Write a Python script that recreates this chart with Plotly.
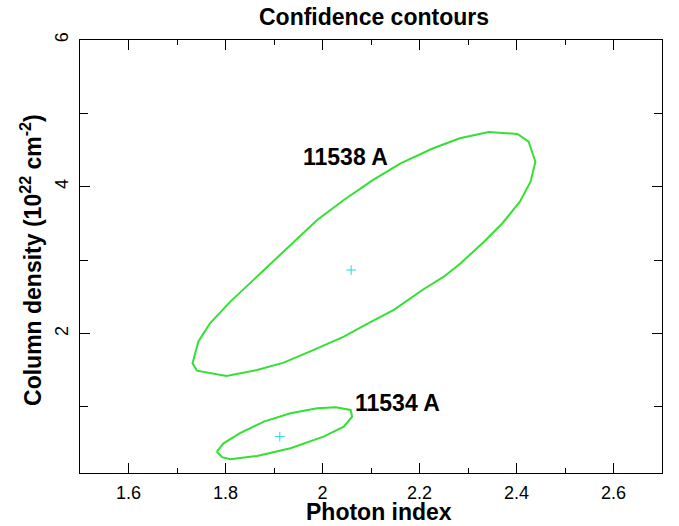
import plotly.graph_objects as go

# Contour 11538 A (photon index, column density)
c1_x = [1.744, 1.732, 1.741, 1.802, 1.865, 1.920, 1.982, 2.044, 2.092, 2.147, 2.206, 2.250,
        2.285, 2.333, 2.371, 2.407, 2.429, 2.439, 2.425, 2.402, 2.343, 2.283, 2.227, 2.161,
        2.102, 2.044, 1.989, 1.927, 1.865, 1.810, 1.768, 1.744]
c1_y = [1.890, 1.595, 1.495, 1.422, 1.504, 1.604, 1.777, 1.958, 2.131, 2.322, 2.594, 2.775,
        2.958, 3.252, 3.503, 3.797, 4.069, 4.342, 4.614, 4.719, 4.747, 4.661, 4.522, 4.320,
        4.083, 3.820, 3.548, 3.162, 2.775, 2.435, 2.140, 1.890]
c1_best = (2.059, 2.866)

# Contour 11534 A
c2_x = [1.782, 1.793, 1.810, 1.865, 1.934, 2.002, 2.044, 2.061, 2.058, 2.027, 1.989, 1.934,
        1.879, 1.830, 1.796, 1.782]
c2_y = [0.391, 0.315, 0.287, 0.332, 0.437, 0.595, 0.732, 0.868, 0.959, 0.996, 0.982, 0.914,
        0.800, 0.642, 0.505, 0.391]
c2_best = (1.912, 0.595)

labels = ["11538 A", "11534 A"]
label_x = [2.047, 2.155]
label_y = [4.406, 1.054]

x_ticks = [1.6, 1.8, 2.0, 2.2, 2.4, 2.6]
x_ticktext = ["1.6", "1.8", "2", "2.2", "2.4", "2.6"]
y_ticks = [2, 4, 6]
y_ticktext = ["2", "4", "6"]

GREEN = "#33e033"
CYAN = "#22d8d8"
FONT = "Liberation Sans, Arial, Helvetica, sans-serif"

fig = go.Figure()
for cx, cy in [(c1_x, c1_y), (c2_x, c2_y)]:
    fig.add_trace(go.Scatter(x=cx, y=cy, mode="lines",
                             line=dict(color=GREEN, width=2), hoverinfo="skip"))
fig.add_trace(go.Scatter(x=[c1_best[0], c2_best[0]], y=[c1_best[1], c2_best[1]],
                         mode="markers",
                         marker=dict(symbol="cross-thin", size=7,
                                     line=dict(color=CYAN, width=1))))

for t, lx, ly in zip(labels, label_x, label_y):
    fig.add_annotation(x=lx, y=ly, text=f"<b>{t}</b>", showarrow=False,
                       font=dict(family=FONT, size=23, color="black"))

# titles
fig.add_annotation(xref="paper", yref="paper", x=0.505, y=1.0, yshift=23,
                   xanchor="center", yanchor="middle",
                   text="<b>Confidence contours</b>", showarrow=False,
                   font=dict(family=FONT, size=23, color="black"))
fig.add_annotation(xref="paper", yref="paper", x=0.513, y=0, yshift=-39,
                   xanchor="center", yanchor="middle",
                   text="<b>Photon index</b>", showarrow=False,
                   font=dict(family=FONT, size=23, color="black"))
fig.add_annotation(xref="paper", yref="paper", x=0, xshift=-49, y=0.492,
                   xanchor="center", yanchor="middle",
                   text="<b>Column density (10<sup>22</sup> cm<sup>-2</sup>)</b>",
                   textangle=-90, showarrow=False,
                   font=dict(family=FONT, size=23, color="black"))

axis_common = dict(showline=True, linecolor="black", linewidth=1, mirror="ticks",
                   ticks="inside", ticklen=10, tickcolor="black", tickwidth=1,
                   showgrid=False, zeroline=False,
                   tickfont=dict(family=FONT, size=18, color="black"))

fig.update_xaxes(range=[1.5, 2.7], tickvals=x_ticks, ticktext=x_ticktext,
                 minor=dict(dtick=0.1, tick0=1.5, ticks="inside", ticklen=5,
                            tickcolor="black"),
                 ticklabelstandoff=3, **axis_common)
fig.update_yaxes(range=[0.1, 6], tickvals=y_ticks, ticktext=y_ticktext, tickangle=-90,
                 minor=dict(dtick=1, tick0=0, ticks="inside", ticklen=8,
                            tickcolor="black"),
                 ticklabelstandoff=4, **axis_common)

fig.update_layout(width=679, height=526, showlegend=False,
                  plot_bgcolor="white", paper_bgcolor="white",
                  margin=dict(l=80, r=17, t=40, b=53))

fig.write_html("out.html")
